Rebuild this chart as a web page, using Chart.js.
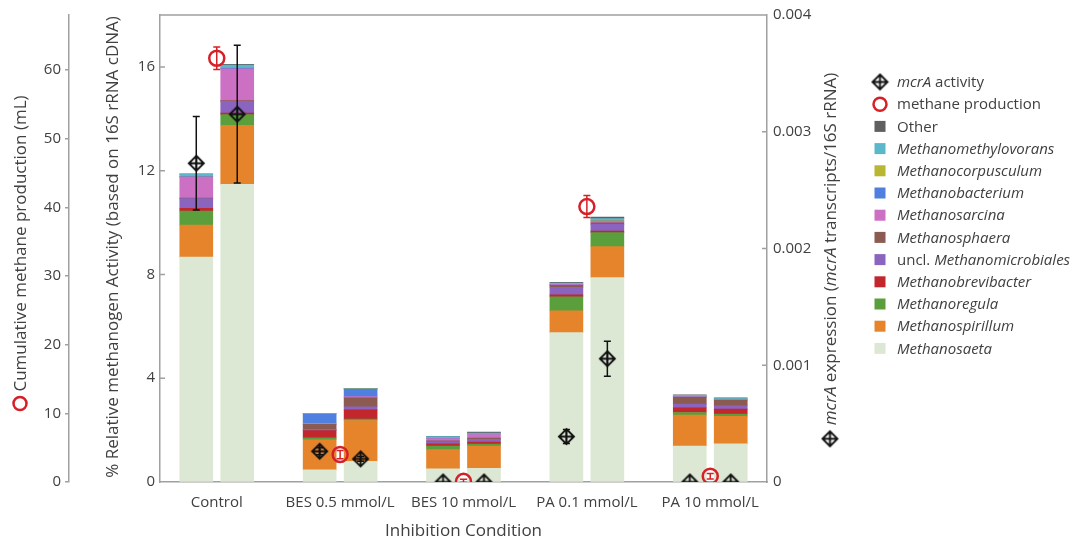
<!DOCTYPE html>
<html>
<head>
<meta charset="utf-8">
<script src="https://cdn.jsdelivr.net/npm/chart.js@4.4.1/dist/chart.umd.min.js"></script>
<style>
  html, body { margin: 0; padding: 0; background: #fff; }
  #wrap { width: 1071px; height: 542px; position: relative; }
</style>
</head>
<body>
<div id="wrap"><canvas id="chart"></canvas></div>
<script>
// ===== DATA =====
const conditions = ["Control", "BES 0.5 mmol/L", "BES 10 mmol/L", "PA 0.1 mmol/L", "PA 10 mmol/L"];

// taxa from the bottom of each stack upwards
const taxa = ["Methanosaeta", "Methanospirillum", "Methanoregula", "Methanobrevibacter",
  "uncl. Methanomicrobiales", "Methanosphaera", "Methanosarcina", "Methanobacterium",
  "Methanocorpusculum", "Methanomethylovorans", "Other"];
const taxaColors = ["#dce8d4", "#e5842b", "#5a9f3b", "#c1272d", "#8a64bf", "#8b5a51",
  "#cc70c4", "#4f80df", "#b9b632", "#5bb7ca", "#5f5f5f"];

// % relative activity, first bar of each condition (one row per taxon)
const firstBar = [
  [8.67, 0.47, 0.51, 5.76, 1.38],
  [1.23, 1.16, 0.74, 0.84, 1.20],
  [0.54, 0.07, 0.13, 0.54, 0.10],
  [0.11, 0.28, 0.09, 0.07, 0.19],
  [0.37, 0.05, 0.08, 0.29, 0.13],
  [0.02, 0.19, 0.04, 0.08, 0.26],
  [0.81, 0.04, 0.08, 0.03, 0.02],
  [0.02, 0.36, 0.01, 0.01, 0.01],
  [0.01, 0.01, 0.01, 0.01, 0.01],
  [0.08, 0.01, 0.06, 0.04, 0.04],
  [0.02, 0.01, 0.01, 0.03, 0.02]
];
// second bar of each condition
const secondBar = [
  [11.47, 0.80, 0.53, 7.88, 1.47],
  [2.28, 1.57, 0.85, 1.19, 1.06],
  [0.41, 0.06, 0.08, 0.54, 0.09],
  [0.06, 0.35, 0.08, 0.06, 0.19],
  [0.45, 0.12, 0.10, 0.26, 0.13],
  [0.03, 0.34, 0.05, 0.06, 0.21],
  [1.23, 0.05, 0.14, 0.06, 0.02],
  [0.02, 0.29, 0.02, 0.02, 0.01],
  [0.02, 0.01, 0.01, 0.03, 0.01],
  [0.10, 0.01, 0.03, 0.05, 0.03],
  [0.03, 0.01, 0.03, 0.06, 0.02]
];

// mcrA expression (transcripts / 16S rRNA)
const mcrFirst = [0.00273, 0.000263, 0, 0.000389, 0];
const mcrFirstErr = [0.0004, 0.00003, 0, 0.00006, 0];
const mcrSecond = [0.00315, 0.000198, 0, 0.001056, 0];
const mcrSecondErr = [0.00059, 0.00002, 0, 0.00015, 0];

// cumulative methane production (mL)
const methane = [61.7, 4.0, 0.1, 40.1, 0.85];
const methaneErr = [1.65, 0.6, 0.3, 1.6, 0.4];

const methaneTicks = [0, 10, 20, 30, 40, 50, 60];
const activityTicks = [0, 4, 8, 12, 16];
const mcrTicks = [0, 0.001, 0.002, 0.003, 0.004];

// ===== LAYOUT =====
const SHIFT = 0.166;     // bar centre offset from the condition, in condition units
const BAR_W = 33;
const FONT = '"Open Sans", sans-serif';
const AXIS = "#a0a0a0";
const TEXT = "#404040";
const RED = "#d61f26";

function mcrMarker(size) {
  const c = document.createElement("canvas");
  const s = size + 4;
  c.width = s; c.height = s;
  const g = c.getContext("2d");
  const m = s / 2, r = size / 2;
  g.strokeStyle = "#111";
  g.lineWidth = 1.9;
  g.beginPath();
  g.moveTo(m, m - r); g.lineTo(m + r, m); g.lineTo(m, m + r); g.lineTo(m - r, m); g.closePath();
  g.moveTo(m, m - r); g.lineTo(m, m + r);
  g.moveTo(m - r, m); g.lineTo(m + r, m);
  g.stroke();
  return c;
}
const marker = mcrMarker(15);

function drawRing(ctx, x, y) {
  ctx.save();
  ctx.strokeStyle = RED;
  ctx.lineWidth = 2.5;
  ctx.beginPath();
  ctx.arc(x, y, 6.5, 0, Math.PI * 2);
  ctx.stroke();
  ctx.restore();
}

// text made of plain and italic pieces
function richWidth(ctx, parts, size) {
  let w = 0;
  parts.forEach(p => {
    ctx.font = (p.i ? "italic " : "") + size + "px " + FONT;
    w += ctx.measureText(p.t).width;
  });
  return w;
}
function drawRich(ctx, parts, x, y, size) {
  parts.forEach(p => {
    ctx.font = (p.i ? "italic " : "") + size + "px " + FONT;
    ctx.fillText(p.t, x, y);
    x += ctx.measureText(p.t).width;
  });
  return x;
}

function fixTicks(values) {
  return scale => { scale.ticks = values.map(v => ({ value: v })); };
}

// ===== PLUGINS =====
const errorBars = {
  id: "errorBars",
  afterDatasetsDraw(chart) {
    const ctx = chart.ctx, a = chart.chartArea;
    ctx.save();
    ctx.beginPath();
    ctx.rect(a.left, a.top, a.right - a.left, a.bottom - a.top);
    ctx.clip();
    chart.data.datasets.forEach(ds => {
      if (!ds.errors) return;
      const xs = chart.scales.x, ys = chart.scales[ds.yAxisID];
      ctx.strokeStyle = ds.borderColor;
      ctx.lineWidth = 1.5;
      ds.data.forEach((p, i) => {
        const e = ds.errors[i];
        if (!e) return;
        const x = xs.getPixelForValue(p.x);
        const y1 = ys.getPixelForValue(p.y + e), y2 = ys.getPixelForValue(p.y - e);
        ctx.beginPath();
        ctx.moveTo(x, y1); ctx.lineTo(x, y2);
        ctx.moveTo(x - 3.5, y1); ctx.lineTo(x + 3.5, y1);
        ctx.moveTo(x - 3.5, y2); ctx.lineTo(x + 3.5, y2);
        ctx.stroke();
      });
    });
    ctx.restore();
  }
};

const frame = {
  id: "frame",
  afterDraw(chart) {
    const ctx = chart.ctx, a = chart.chartArea;
    ctx.save();
    ctx.strokeStyle = AXIS;
    ctx.lineWidth = 1.5;
    ctx.beginPath();
    ctx.moveTo(a.left, a.top); ctx.lineTo(a.right, a.top);
    // inward tick marks on the two axes that touch the plot
    chart.scales.y.ticks.forEach(t => {
      const y = chart.scales.y.getPixelForValue(t.value);
      if (y > a.top + 1 && y < a.bottom - 1) { ctx.moveTo(a.left, y); ctx.lineTo(a.left + 5, y); }
    });
    chart.scales.yR.ticks.forEach(t => {
      const y = chart.scales.yR.getPixelForValue(t.value);
      if (y > a.top + 1 && y < a.bottom - 1) { ctx.moveTo(a.right, y); ctx.lineTo(a.right - 5, y); }
    });
    ctx.stroke();
    ctx.restore();
  }
};

const titlesAndLegend = {
  id: "titlesAndLegend",
  afterDraw(chart) {
    const ctx = chart.ctx, a = chart.chartArea;
    const mid = (a.top + a.bottom) / 2;
    const size = 17;
    ctx.save();
    ctx.fillStyle = TEXT;
    ctx.textBaseline = "middle";

    // outer left title with a ring in front
    let parts = [{ t: "Cumulative methane production (mL)" }];
    let w = richWidth(ctx, parts, size) + 19;
    ctx.save();
    ctx.translate(20, mid + 4.5);
    ctx.rotate(-Math.PI / 2);
    drawRing(ctx, -w / 2 + 7, 0);
    drawRich(ctx, parts, -w / 2 + 19, 1, size);
    ctx.restore();

    // inner left title
    parts = [{ t: "% Relative methanogen Activity (based on 16S rRNA cDNA)" }];
    w = richWidth(ctx, parts, size);
    ctx.save();
    ctx.translate(112, mid - 1.5);
    ctx.rotate(-Math.PI / 2);
    drawRich(ctx, parts, -w / 2, 1, size);
    ctx.restore();

    // right title with the mcrA marker in front
    parts = [{ t: "mcrA", i: true }, { t: " expression (" }, { t: "mcrA", i: true }, { t: " transcripts/16S rRNA)" }];
    w = richWidth(ctx, parts, size) + 21;
    ctx.save();
    ctx.translate(830, mid + 11);
    ctx.rotate(-Math.PI / 2);
    ctx.drawImage(marker, -w / 2 - 2, -marker.height / 2);
    drawRich(ctx, parts, -w / 2 + 21, 1, size);
    ctx.restore();

    // legend
    const rows = [
      { kind: "mcr", parts: [{ t: "mcrA", i: true }, { t: " activity" }] },
      { kind: "ring", parts: [{ t: "methane production" }] }
    ];
    for (let k = taxa.length - 1; k >= 0; k--) {
      let p;
      if (taxa[k] === "Other") p = [{ t: "Other" }];
      else if (taxa[k].startsWith("uncl. ")) p = [{ t: "uncl. " }, { t: taxa[k].slice(6), i: true }];
      else p = [{ t: taxa[k], i: true }];
      rows.push({ kind: "box", color: taxaColors[k], parts: p });
    }
    const lx = 880, ly = 82, step = 22.2, lsize = 15;
    rows.forEach((r, n) => {
      const y = ly + n * step;
      if (r.kind === "mcr") ctx.drawImage(marker, lx - marker.width / 2, y - marker.height / 2);
      else if (r.kind === "ring") drawRing(ctx, lx, y);
      else { ctx.fillStyle = r.color; ctx.fillRect(lx - 5.5, y - 5.5, 11, 11); }
      ctx.fillStyle = TEXT;
      drawRich(ctx, r.parts, lx + 17, y + 1, lsize);
    });
    ctx.restore();
  }
};

// ===== DATASETS =====
const datasets = [];
datasets.push({
  type: "scatter", label: "methane production",
  data: methane.map((v, i) => ({ x: i, y: v })), errors: methaneErr,
  yAxisID: "yM", order: 0,
  pointStyle: "circle", pointRadius: 7.5, pointHoverRadius: 7.5, pointBorderWidth: 2.5,
  borderColor: RED, backgroundColor: "rgba(0,0,0,0)"
});
[[mcrFirst, mcrFirstErr, -1], [mcrSecond, mcrSecondErr, 1]].forEach(([vals, errs, side]) => {
  datasets.push({
    type: "scatter", label: "mcrA activity",
    data: vals.map((v, i) => ({ x: i + side * SHIFT, y: v })), errors: errs,
    yAxisID: "yR", order: 0,
    pointStyle: marker, borderColor: "#111", backgroundColor: "#111"
  });
});
taxa.forEach((name, k) => {
  datasets.push({ type: "bar", label: name, stack: "first", yAxisID: "y", order: 1,
    data: firstBar[k].map((v, i) => ({ x: i - SHIFT, y: v })), backgroundColor: taxaColors[k] });
  datasets.push({ type: "bar", label: name, stack: "second", yAxisID: "y", order: 1,
    data: secondBar[k].map((v, i) => ({ x: i + SHIFT, y: v })), backgroundColor: taxaColors[k] });
});

// ===== CHART =====
Chart.defaults.font.family = FONT;
Chart.defaults.color = TEXT;

function build() {
  new Chart(document.getElementById("chart"), {
    type: "bar",
    data: { datasets: datasets },
    options: {
      responsive: true,
      maintainAspectRatio: false,
      animation: false,
      events: [],
      layout: { padding: { top: 13, right: 224, left: 0, bottom: 0 } },
      datasets: { bar: { grouped: false, barThickness: BAR_W, borderWidth: 0 } },
      plugins: { legend: { display: false }, tooltip: { enabled: false } },
      scales: {
        x: {
          type: "linear", position: "bottom", min: -0.46, max: 4.46, offset: false,
          grid: { display: false, drawTicks: false },
          border: { color: AXIS, width: 1.5 },
          ticks: { font: { size: 15 }, color: TEXT, padding: 12, autoSkip: false, maxRotation: 0,
            callback: v => conditions[v] },
          afterBuildTicks: fixTicks(conditions.map((c, i) => i)),
          title: { display: true, text: "Inhibition Condition", font: { size: 17 }, color: TEXT, padding: { top: 4, bottom: 1 } },
          afterFit: s => { s.height = 60; }
        },
        yM: {
          position: "left", weight: 1, min: 0, max: 68,
          grid: { drawOnChartArea: false, tickLength: 4, color: AXIS, lineWidth: 1.5 },
          border: { color: AXIS, width: 1.5 },
          ticks: { font: { size: 15 }, color: TEXT, padding: 4 },
          afterBuildTicks: fixTicks(methaneTicks),
          afterFit: s => { s.width = 69; }
        },
        y: {
          position: "left", weight: 0, min: 0, max: 18, stacked: true,
          grid: { drawOnChartArea: false, drawTicks: false },
          border: { color: AXIS, width: 1.5 },
          ticks: { font: { size: 15 }, color: TEXT, padding: 5 },
          afterBuildTicks: fixTicks(activityTicks),
          afterFit: s => { s.width = 91; }
        },
        yR: {
          position: "right", min: 0, max: 0.004,
          grid: { drawOnChartArea: false, drawTicks: false },
          border: { color: AXIS, width: 1.5 },
          ticks: { font: { size: 15 }, color: TEXT, padding: 6,
            callback: v => v === 0 ? "0" : v.toFixed(3) },
          afterBuildTicks: fixTicks(mcrTicks),
          afterFit: s => { s.width = 80; }
        }
      }
    },
    plugins: [errorBars, frame, titlesAndLegend]
  });
}

Promise.all([
  document.fonts.load('15px "Open Sans"'),
  document.fonts.load('italic 15px "Open Sans"')
]).then(build, build);
</script>
</body>
</html>
